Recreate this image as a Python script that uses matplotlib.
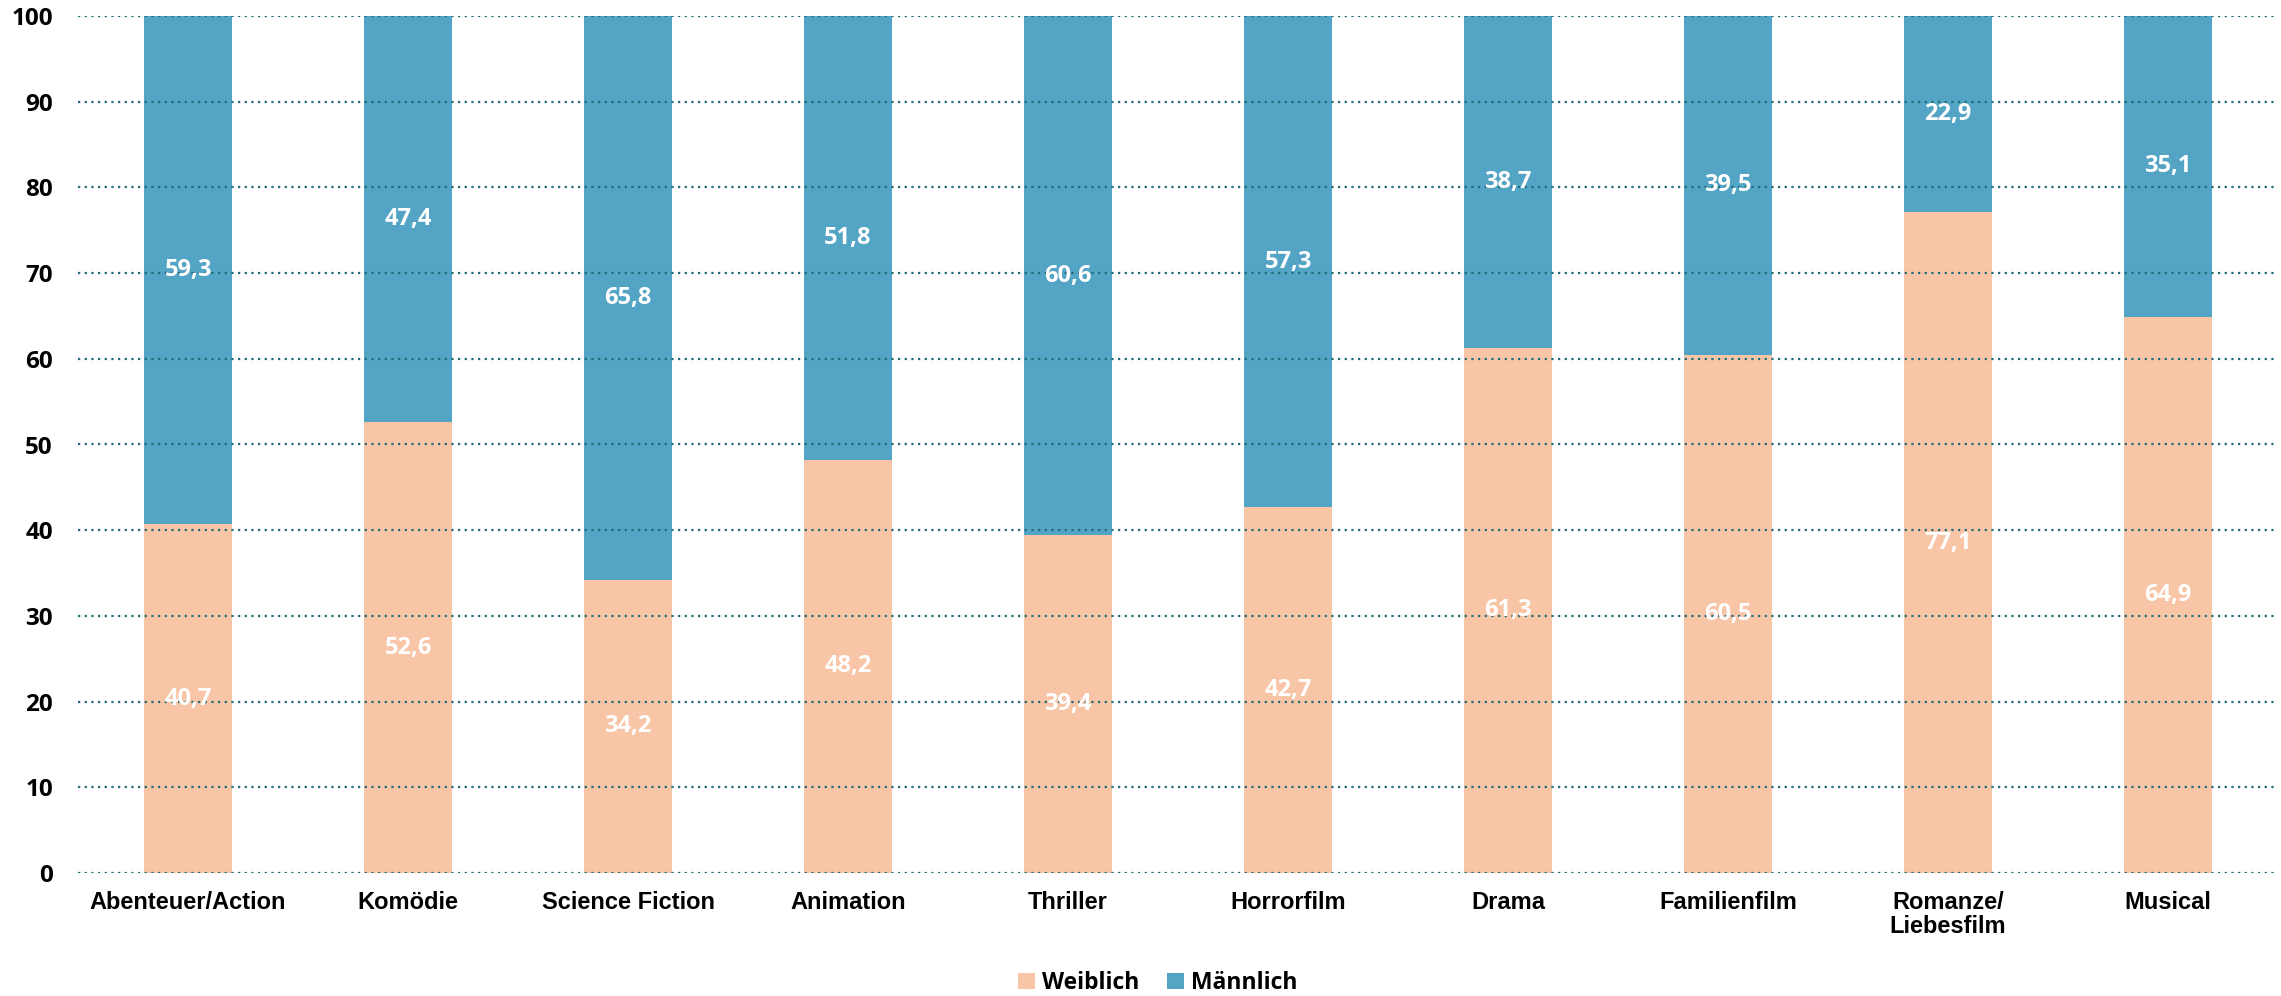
import matplotlib
matplotlib.use("Agg")
import matplotlib.pyplot as plt
import numpy as np

categories = ["Abenteuer/Action", "Komödie", "Science Fiction", "Animation", "Thriller",
              "Horrorfilm", "Drama", "Familienfilm", "Romanze/\nLiebesfilm", "Musical"]
weiblich = [40.7, 52.6, 34.2, 48.2, 39.4, 42.7, 61.3, 60.5, 77.1, 64.9]
maennlich = [59.3, 47.4, 65.8, 51.8, 60.6, 57.3, 38.7, 39.5, 22.9, 35.1]
series_names = ["Weiblich", "Männlich"]
yticks = [0, 10, 20, 30, 40, 50, 60, 70, 80, 90, 100]

c_w = "#F8C6A7"
c_m = "#54A5C5"
grid_c = "#1F6B78"

fig = plt.figure(figsize=(22.81, 9.96), dpi=100)
ax = fig.add_axes([78/2281, 1-873/996, 2200/2281, (873-16)/996])

x = np.arange(len(categories))
bw = 0.4
b1 = ax.bar(x, weiblich, bw, color=c_w, label=series_names[0], zorder=1)
b2 = ax.bar(x, maennlich, bw, bottom=weiblich, color=c_m, label=series_names[1], zorder=1)

ax.set_xlim(-0.5, len(categories) - 0.5)
ax.set_ylim(0, 100)
ax.set_yticks(yticks)
ax.yaxis.grid(True, linestyle=(0, (1, 2)), color=grid_c, linewidth=1.6, zorder=2)
ax.set_axisbelow(False)
for s in ax.spines.values():
    s.set_visible(False)

ax.set_xticks(x)
ax.set_xticklabels(categories, fontfamily="Liberation Sans", fontweight="bold",
                   fontsize=17, linespacing=1.05)
ax.set_yticklabels([str(v) for v in yticks], fontfamily="Open Sans", fontweight="bold",
                   fontsize=17.5)
ax.tick_params(axis="x", length=0, pad=13)
ax.tick_params(axis="y", length=0, pad=18)

for i in range(len(categories)):
    ax.text(x[i], weiblich[i] / 2, f"{weiblich[i]:.1f}".replace(".", ","),
            ha="center", va="center", color="white", fontfamily="Open Sans",
            fontweight="bold", fontsize=17, zorder=5)
    ax.text(x[i], weiblich[i] + maennlich[i] / 2, f"{maennlich[i]:.1f}".replace(".", ","),
            ha="center", va="center", color="white", fontfamily="Open Sans",
            fontweight="bold", fontsize=17, zorder=5)

leg = fig.legend(handles=[b1, b2], labels=series_names, loc="center",
                 bbox_to_anchor=(0.5075, 0.013), ncol=2, frameon=False,
                 prop={"family": "Open Sans", "weight": "bold", "size": 16.5},
                 handlelength=0.75, handleheight=0.75, handletextpad=0.3,
                 columnspacing=1.2, borderaxespad=0)

fig.savefig("out.png", dpi=100)
